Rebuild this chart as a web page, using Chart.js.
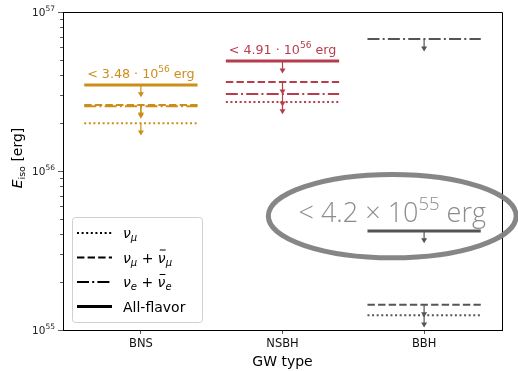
<!DOCTYPE html>
<html>
<head>
<meta charset="utf-8">
<script src="https://cdn.jsdelivr.net/npm/chart.js@4.4.1/dist/chart.umd.min.js"></script>
<style>
  html, body { margin: 0; padding: 0; background: #fff; }
  canvas { display: block; }
</style>
</head>
<body>
<canvas id="c" width="518" height="371"></canvas>
<script>
// Upper limits on isotropic-equivalent energy per GW source type
const categories = ['BNS', 'NSBH', 'BBH'];
const nuMu        = [2.00e56, 2.72e56, 1.24e55];   // ν_μ
const nuMuNuMuBar = [2.60e56, 3.63e56, 1.44e55];   // ν_μ + ν̄_μ
const nuENuEBar   = [2.55e56, 3.05e56, 6.76e56];   // ν_e + ν̄_e
const allFlavor   = [3.48e56, 4.91e56, 4.20e55];   // all flavours
const yTicks      = [1e55, 1e56, 1e57];
const yRange      = [1e55, 1e57];

const groupColors = ['#cd8d1b', '#b73d4c', '#555555'];
const FONT = '"DejaVu Sans", sans-serif';

const styles = {
  dotted:  { dash: [2, 2.6],             width: 2 },
  dashed:  { dash: [7.4, 3.2],           width: 2 },
  dashdot: { dash: [12, 3.2, 2, 3.2],    width: 2 },
  solid:   { dash: [],                   width: 3 }
};

const series = [
  { label: 'nuMu',   values: nuMu,        style: 'dotted' },
  { label: 'nuMuB',  values: nuMuNuMuBar, style: 'dashed' },
  { label: 'nuEB',   values: nuENuEBar,   style: 'dashdot' },
  { label: 'all',    values: allFlavor,   style: 'solid' }
];

const HALF = 0.4;
const datasets = [];
series.forEach(s => {
  s.values.forEach((v, i) => {
    if (v == null) return;
    const st = styles[s.style];
    datasets.push({
      label: s.label + '-' + categories[i],
      data: [{ x: i - HALF, y: v }, { x: i + HALF, y: v }],
      showLine: true,
      borderColor: groupColors[i],
      borderWidth: st.width,
      borderDash: st.dash,
      pointRadius: 0,
      fill: false
    });
  });
});

function drawSupText(ctx, parts, x, y, align) {
  let total = 0;
  parts.forEach(p => {
    ctx.font = (p.style || '') + ' ' + (p.weight || '') + ' ' + p.size + 'px ' + (p.family || FONT);
    p.w = ctx.measureText(p.t).width;
    total += p.w;
  });
  let cx = align === 'center' ? x - total / 2 : (align === 'right' ? x - total : x);
  ctx.textAlign = 'left';
  ctx.textBaseline = 'alphabetic';
  parts.forEach(p => {
    ctx.font = (p.style || '') + ' ' + (p.weight || '') + ' ' + p.size + 'px ' + (p.family || FONT);
    ctx.fillText(p.t, cx, y + (p.dy || 0));
    p.x0 = cx;
    cx += p.w;
  });
  return total;
}

function fmtMantissa(v, digits) {
  const e = Math.floor(Math.log10(v));
  return { m: (v / Math.pow(10, e)).toFixed(digits), e: e };
}

const arrowPlugin = {
  id: 'limitArrows',
  afterDatasetsDraw(chart) {
    const ctx = chart.ctx, xs = chart.scales.x, ys = chart.scales.y;
    series.forEach(s => {
      s.values.forEach((v, i) => {
        if (v == null) return;
        const px = xs.getPixelForValue(i);
        const y0 = ys.getPixelForValue(v);
        const y1 = ys.getPixelForValue(v * 0.835);
        ctx.save();
        ctx.strokeStyle = groupColors[i];
        ctx.fillStyle = groupColors[i];
        ctx.lineWidth = 1.2;
        ctx.beginPath();
        ctx.moveTo(px, y0);
        ctx.lineTo(px, y1 - 4);
        ctx.stroke();
        ctx.beginPath();
        ctx.moveTo(px - 3, y1 - 5);
        ctx.lineTo(px + 3, y1 - 5);
        ctx.lineTo(px, y1);
        ctx.closePath();
        ctx.fill();
        ctx.restore();
      });
    });
  }
};

const decorPlugin = {
  id: 'decor',
  afterDraw(chart) {
    const ctx = chart.ctx, a = chart.chartArea;
    const xs = chart.scales.x, ys = chart.scales.y;
    ctx.save();

    // top and right spines
    ctx.strokeStyle = '#000';
    ctx.lineWidth = 1;
    ctx.beginPath();
    ctx.moveTo(a.left, a.top + 0.5);
    ctx.lineTo(a.right + 0.5, a.top + 0.5);
    ctx.lineTo(a.right + 0.5, a.bottom);
    ctx.stroke();

    // minor log ticks
    ctx.strokeStyle = '#333';
    ctx.lineWidth = 0.8;
    const eMin = Math.round(Math.log10(yRange[0])), eMax = Math.round(Math.log10(yRange[1]));
    for (let e = eMin; e < eMax; e++) {
      for (let m = 2; m <= 9; m++) {
        const py = Math.round(ys.getPixelForValue(m * Math.pow(10, e))) + 0.5;
        ctx.beginPath();
        ctx.moveTo(a.left - 3, py);
        ctx.lineTo(a.left, py);
        ctx.stroke();
      }
    }

    // y tick labels with superscript exponents
    ctx.fillStyle = '#222';
    yTicks.forEach(t => {
      const py = ys.getPixelForValue(t);
      const e = Math.round(Math.log10(t));
      drawSupText(ctx, [
        { t: '10', size: 10.5 },
        { t: String(e), size: 7.5, dy: -5 }
      ], a.left - 8, py + 4, 'right');
    });

    // y axis title: E_iso [erg]
    ctx.save();
    ctx.translate(22, 158);
    ctx.rotate(-Math.PI / 2);
    ctx.fillStyle = '#000';
    drawSupText(ctx, [
      { t: 'E', size: 14, style: 'italic' },
      { t: 'iso', size: 9.5, dy: 3 },
      { t: ' [erg]', size: 14 }
    ], 0, 0, 'center');
    ctx.restore();

    // value labels above BNS and NSBH all-flavour limits
    [0, 1].forEach(i => {
      const v = allFlavor[i];
      const f = fmtMantissa(v, 2);
      const px = xs.getPixelForValue(i);
      const py = ys.getPixelForValue(v) - 7;
      ctx.fillStyle = groupColors[i];
      drawSupText(ctx, [
        { t: '< ' + f.m + ' \u00B7 10', size: 12.7 },
        { t: String(f.e), size: 9, dy: -6 },
        { t: ' erg', size: 12.7 }
      ], px, py, 'center');
    });

    // highlighted BBH limit
    {
      const v = allFlavor[2];
      const f = fmtMantissa(v, 1);
      const cxData = 1.775;
      const cyVal = v * 1.24;
      const ecx = xs.getPixelForValue(cxData);
      const ecy = ys.getPixelForValue(cyVal);
      const rx = xs.getPixelForValue(cxData + 0.875) - ecx;
      const ry = ecy - ys.getPixelForValue(cyVal * Math.pow(10, 0.262));
      ctx.strokeStyle = 'rgba(128,128,128,0.95)';
      ctx.lineWidth = 5;
      ctx.beginPath();
      ctx.ellipse(ecx, ecy, rx, ry, 0, 0, Math.PI * 2);
      ctx.stroke();

      ctx.fillStyle = '#8c8c8c';
      const fam = '"Open Sans", "DejaVu Sans", sans-serif';
      drawSupText(ctx, [
        { t: '< ' + f.m + ' \u00D7 10', size: 27, weight: '300', family: fam },
        { t: String(f.e), size: 18.5, dy: -12, weight: '300', family: fam },
        { t: ' erg', size: 27, weight: '300', family: fam }
      ], ecx, ys.getPixelForValue(v) - 9, 'center');
    }

    // legend
    const lx = 72, ly = 217, lw = 130, lh = 105;
    ctx.fillStyle = 'rgba(255,255,255,0.85)';
    ctx.strokeStyle = '#d0d0d0';
    ctx.lineWidth = 1;
    ctx.beginPath();
    ctx.roundRect(lx + 0.5, ly + 0.5, lw, lh, 3);
    ctx.fill();
    ctx.stroke();

    const rows = [
      { style: 'dotted',  parts: [{ t: '\u03BD', size: 14, style: 'italic' }, { t: '\u03BC', size: 10, style: 'italic', dy: 3 }] },
      { style: 'dashed',  parts: [{ t: '\u03BD', size: 14, style: 'italic' }, { t: '\u03BC', size: 10, style: 'italic', dy: 3 }, { t: ' + ', size: 14 }, { t: '\u03BD', size: 14, style: 'italic', bar: true }, { t: '\u03BC', size: 10, style: 'italic', dy: 3 }] },
      { style: 'dashdot', parts: [{ t: '\u03BD', size: 14, style: 'italic' }, { t: 'e', size: 10, style: 'italic', dy: 3 }, { t: ' + ', size: 14 }, { t: '\u03BD', size: 14, style: 'italic', bar: true }, { t: 'e', size: 10, style: 'italic', dy: 3 }] },
      { style: 'solid',   parts: [{ t: 'All-flavor', size: 14 }] }
    ];
    rows.forEach((r, k) => {
      const ry0 = 233 + k * 24.5;
      const st = styles[r.style];
      ctx.strokeStyle = '#000';
      ctx.lineWidth = st.width;
      ctx.setLineDash(st.dash);
      ctx.beginPath();
      ctx.moveTo(77, ry0);
      ctx.lineTo(112, ry0);
      ctx.stroke();
      ctx.setLineDash([]);
      ctx.fillStyle = '#000';
      drawSupText(ctx, r.parts, 123, ry0 + 5, 'left');
      r.parts.forEach(p => {
        if (p.bar) {
          ctx.lineWidth = 1;
          ctx.beginPath();
          ctx.moveTo(p.x0 + 2, ry0 - 7.5);
          ctx.lineTo(p.x0 + p.w, ry0 - 7.5);
          ctx.stroke();
        }
      });
    });

    ctx.restore();
  }
};

new Chart(document.getElementById('c'), {
  type: 'scatter',
  data: { datasets },
  options: {
    responsive: false,
    devicePixelRatio: 1,
    animation: false,
    layout: { padding: { top: 12, right: 16, left: 0, bottom: 0 } },
    plugins: { legend: { display: false }, tooltip: { enabled: false } },
    scales: {
      x: {
        type: 'linear',
        min: -0.55,
        max: 2.55,
        afterBuildTicks: s => { s.ticks = categories.map((_, i) => ({ value: i })); },
        afterFit: s => { s.height = 41; },
        grid: { drawOnChartArea: false, tickLength: 4, tickColor: '#333', tickWidth: 0.8 },
        border: { display: true, color: '#000', width: 1 },
        ticks: {
          callback: v => categories[v],
          font: { family: FONT, size: 11.5 },
          color: '#111',
          padding: 3,
          maxRotation: 0
        },
        title: {
          display: true,
          text: 'GW type',
          font: { family: FONT, size: 14 },
          color: '#000',
          padding: { top: 0, bottom: 0 }
        }
      },
      y: {
        type: 'logarithmic',
        min: yRange[0],
        max: yRange[1],
        afterBuildTicks: s => { s.ticks = yTicks.map(v => ({ value: v, major: true })); },
        afterFit: s => { s.width = 63; },
        grid: { drawOnChartArea: false, tickLength: 5, tickColor: '#333', tickWidth: 0.8 },
        border: { display: true, color: '#000', width: 1 },
        ticks: { display: false }
      }
    }
  },
  plugins: [arrowPlugin, decorPlugin]
});
</script>
</body>
</html>
